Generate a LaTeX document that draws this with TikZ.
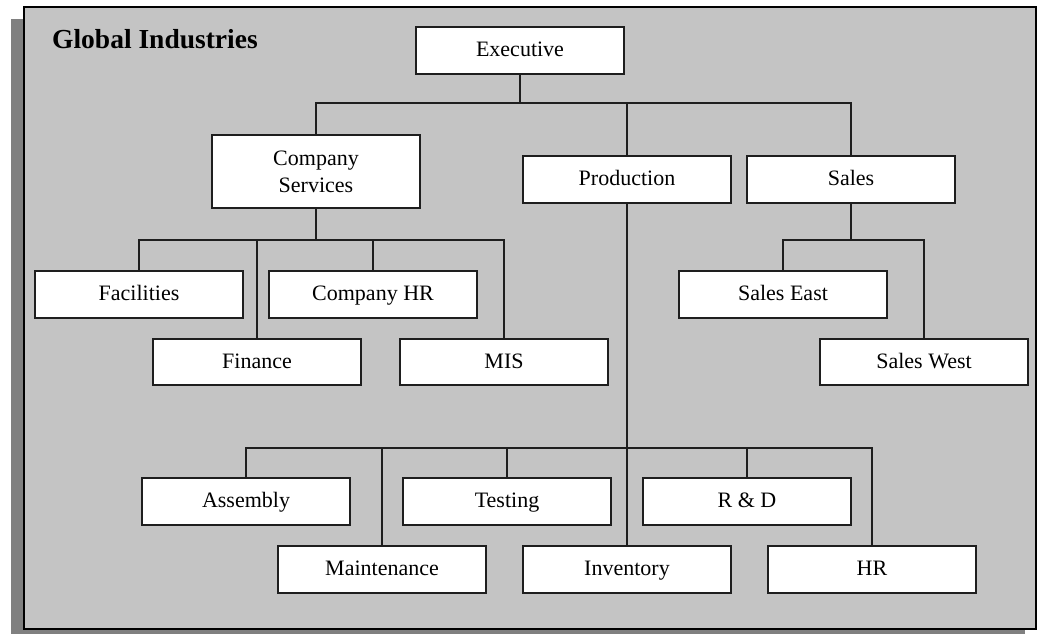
\documentclass[tikz,border=0pt]{standalone}
\usepackage{fontspec}
\setmainfont{Liberation Serif}
\definecolor{panelgray}{RGB}{196,196,196}
\definecolor{shadowgray}{RGB}{128,128,128}
\definecolor{linecol}{RGB}{30,30,30}
\tikzset{
  orgbox/.style={draw=linecol, fill=white, line width=1.8pt, minimum width=208pt,
    minimum height=47pt, inner sep=0pt, align=center, text height=16pt, text depth=4pt,
    font=\fontsize{22}{27}\selectfont},
  conn/.style={draw=linecol, line width=1.8pt},
}
\begin{document}
\begin{tikzpicture}[x=1pt,y=-1pt]
\useasboundingbox (0,0) rectangle (1037,634);
% shadow and panel
\fill[shadowgray] (11,19) rectangle (1025,634);
\draw[fill=panelgray, draw=black, line width=1.8pt] (24,7) rectangle (1036,629);
\node[anchor=base west, inner sep=0pt, font=\fontsize{27.5}{32}\selectfont\bfseries] (title) at (52,49) {Global Industries};

% bus coordinates
\coordinate (bus1) at (0,103);
\coordinate (bus2) at (0,240);
\coordinate (bus3) at (0,448);

% boxes
\node[orgbox] (exec) at (520,50.5) {Executive};
\node[orgbox, minimum height=73pt, text height=, text depth=] (cs) at (316,171.5) {Company\\Services};
\node[orgbox] (prod) at (627,179.5) {Production};
\node[orgbox] (sales) at (851,179.5) {Sales};

\node[orgbox] (fac) at (139,294.5) {Facilities};
\node[orgbox] (chr) at (373,294.5) {Company HR};
\node[orgbox, minimum height=46pt] (fin) at (257,362) {Finance};
\node[orgbox, minimum height=46pt] (mis) at (504,362) {MIS};

\node[orgbox] (se) at (783,294.5) {Sales East};
\node[orgbox, minimum height=46pt] (sw) at (924,362) {Sales West};

\node[orgbox] (asm) at (246,501.5) {Assembly};
\node[orgbox] (tst) at (507,501.5) {Testing};
\node[orgbox] (rd) at (747,501.5) {R \& D};
\node[orgbox] (mnt) at (382,569.5) {Maintenance};
\node[orgbox] (inv) at (627,569.5) {Inventory};
\node[orgbox] (hr) at (872,569.5) {HR};

% connectors: executive
\foreach \c in {cs,prod,sales}
  \draw[conn] (exec.south) |- (\c.north |- bus1) -- (\c.north);
% company services
\foreach \c in {fac,chr,fin,mis}
  \draw[conn] (cs.south) |- (\c.north |- bus2) -- (\c.north);
% sales
\foreach \c in {se,sw}
  \draw[conn] (sales.south) |- (\c.north |- bus2) -- (\c.north);
% production
\foreach \c in {asm,tst,rd,mnt,inv,hr}
  \draw[conn] (prod.south) |- (\c.north |- bus3) -- (\c.north);
\end{tikzpicture}
\end{document}
